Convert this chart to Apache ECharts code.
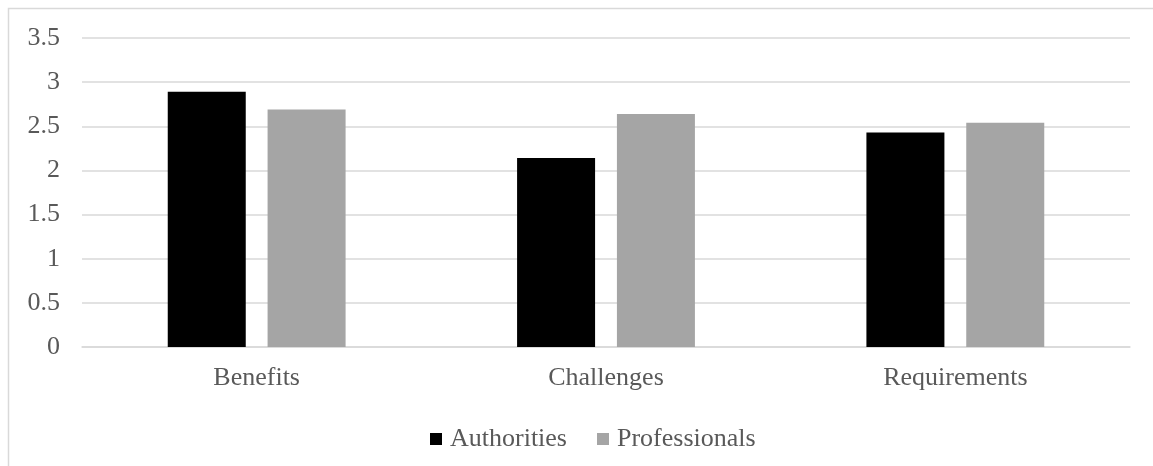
<!DOCTYPE html>
<html>
<head>
<meta charset="utf-8">
<script src="https://cdn.jsdelivr.net/npm/echarts@6/dist/echarts.min.js"></script>
<style>
html,body{margin:0;padding:0;background:#fff;}
#chart{width:1153px;height:466px;}
</style>
</head>
<body>
<div id="chart"></div>
<script>
const categories = ['Benefits', 'Challenges', 'Requirements'];
const authorities = [2.89, 2.14, 2.43];
const professionals = [2.69, 2.64, 2.54];
const yTicks = { min: 0, max: 3.5, interval: 0.5 };

const chart = echarts.init(document.getElementById('chart'));
const font = 'Liberation Serif, "Times New Roman", serif';
chart.setOption({
  animation: false,
  backgroundColor: '#ffffff',
  graphic: [{
    type: 'rect',
    shape: { x: 8.5, y: 8.5, width: 1200, height: 500 },
    style: { fill: 'none', stroke: '#d9d9d9', lineWidth: 1.5 },
    silent: true
  }],
  grid: { left: 82, right: 23, top: 38, bottom: 119, containLabel: false },
  legend: {
    data: ['Authorities', 'Professionals'],
    top: 421,
    left: 425,
    itemWidth: 12,
    itemHeight: 12,
    itemGap: 30,
    icon: 'rect',
    textStyle: { fontFamily: font, fontSize: 26, color: '#595959', padding: [0, 0, 0, 3] }
  },
  xAxis: {
    type: 'category',
    data: categories,
    axisLine: { show: true, lineStyle: { color: '#d9d9d9', width: 1.5 } },
    axisTick: { show: false },
    axisLabel: { fontFamily: font, fontSize: 26, color: '#595959', margin: 18 }
  },
  yAxis: {
    type: 'value',
    min: yTicks.min,
    max: yTicks.max,
    interval: yTicks.interval,
    axisLine: { show: false },
    axisTick: { show: false },
    splitLine: { lineStyle: { color: '#d9d9d9', width: 1.5 } },
    axisLabel: { fontFamily: font, fontSize: 26, color: '#595959', margin: 22 }
  },
  series: [
    { name: 'Authorities', type: 'bar', data: authorities, barWidth: 78, barGap: '28%',
      itemStyle: { color: '#000000' } },
    { name: 'Professionals', type: 'bar', data: professionals, barWidth: 78,
      itemStyle: { color: '#a5a5a5' } }
  ]
});
</script>
</body>
</html>
